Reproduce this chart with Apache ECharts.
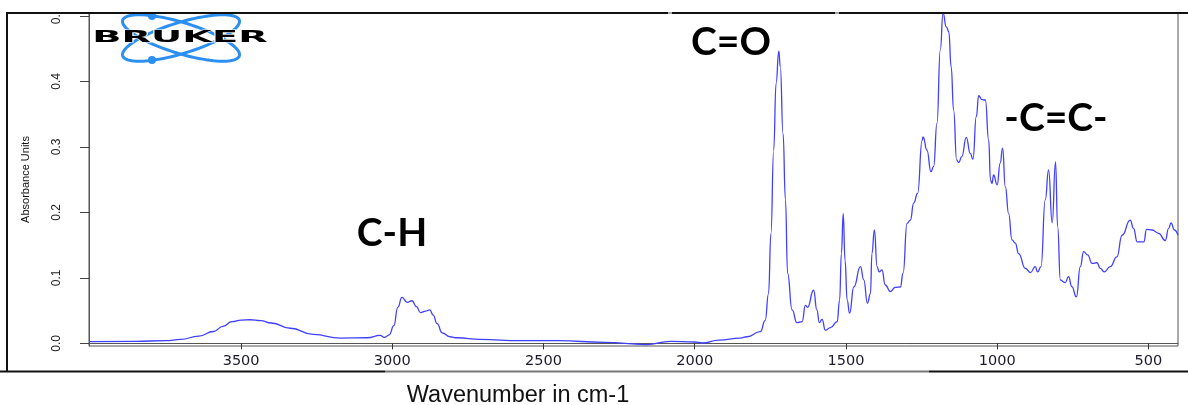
<!DOCTYPE html>
<html>
<head>
<meta charset="utf-8">
<script src="https://cdn.jsdelivr.net/npm/echarts@6.0.0/dist/echarts.min.js"></script>
<style>
  html, body { margin: 0; padding: 0; background: #fff; }
  #myChart { width: 1188px; height: 405px; }
</style>
</head>
<body>
<div id="myChart"></div>
<script>
// spectrum (wavenumber cm-1, absorbance)
var wavenumbers = [4000, 3850, 3750, 3700, 3640, 3591, 3560, 3530, 3500, 3470, 3436, 3400, 3337, 3261, 3172, 3083, 3040, 3026, 3010, 2995, 2982, 2968, 2951, 2935, 2920, 2907, 2890, 2876, 2865, 2852, 2835, 2810, 2786, 2709, 2576, 2450, 2300, 2160, 2080, 2000, 1976, 1920, 1850, 1827, 1783, 1767, 1756, 1748, 1739, 1731, 1722, 1717, 1708, 1700, 1693, 1678, 1662, 1645, 1634, 1627, 1607, 1596, 1588, 1579, 1568, 1551, 1529, 1521, 1515, 1509, 1503, 1496, 1488, 1474, 1452, 1441, 1429, 1419, 1414, 1406, 1397, 1390, 1381, 1370, 1353, 1337, 1320, 1311, 1298, 1287, 1276, 1263, 1248, 1245, 1232, 1219, 1210, 1199, 1188, 1179, 1168, 1160, 1152, 1144, 1134, 1127, 1117, 1102, 1089, 1080, 1069, 1061, 1050, 1039, 1028, 1022, 1017, 1012, 1000, 990, 982, 973, 962, 951, 940, 929, 907, 890, 874, 866, 855, 841, 830, 818, 807, 800, 791, 775, 764, 753, 738, 725, 714, 701, 686, 670, 659, 646, 626, 604, 587, 560, 549, 537, 515, 506, 488, 466, 444, 433, 425, 414, 402];
var absorbance = [0.0025, 0.003, 0.004, 0.006, 0.011, 0.018, 0.026, 0.033, 0.0355, 0.036, 0.0345, 0.031, 0.023, 0.0135, 0.008, 0.0085, 0.012, 0.009, 0.013, 0.027, 0.055, 0.070, 0.0625, 0.065, 0.056, 0.047, 0.049, 0.051, 0.043, 0.030, 0.016, 0.010, 0.0085, 0.006, 0.004, 0.004, 0.0015, -0.002, 0.003, 0.002, 0.0005, 0.005, 0.008, 0.010, 0.0177, 0.035, 0.076, 0.168, 0.295, 0.397, 0.446, 0.422, 0.32, 0.219, 0.107, 0.051, 0.0315, 0.033, 0.058, 0.055, 0.081, 0.051, 0.0315, 0.0366, 0.020, 0.024, 0.033, 0.066, 0.137, 0.198, 0.127, 0.066, 0.046, 0.086, 0.117, 0.097, 0.061, 0.076, 0.137, 0.173, 0.117, 0.109, 0.112, 0.089, 0.079, 0.0855, 0.086, 0.107, 0.183, 0.188, 0.214, 0.229, 0.310, 0.315, 0.295, 0.262, 0.270, 0.336, 0.448, 0.504, 0.483, 0.476, 0.422, 0.356, 0.280, 0.276, 0.285, 0.3145, 0.290, 0.281, 0.346, 0.378, 0.372, 0.3715, 0.310, 0.249, 0.244, 0.257, 0.242, 0.275, 0.298, 0.239, 0.198, 0.158, 0.153, 0.137, 0.1145, 0.108, 0.117, 0.109, 0.117, 0.219, 0.2646, 0.184, 0.277, 0.178, 0.0967, 0.0926, 0.1017, 0.0865, 0.071, 0.117, 0.140, 0.135, 0.122, 0.123, 0.1145, 0.109, 0.117, 0.132, 0.165, 0.188, 0.1755, 0.155, 0.155, 0.174, 0.173, 0.168, 0.157, 0.1755, 0.184, 0.173, 0.165];

var xTicks = [3500, 3000, 2500, 2000, 1500, 1000, 500];
var yTicks = [0, 0.1, 0.2, 0.3, 0.4, 0.5];

var bandLabels = ['C-H', 'C=O', '-C=C-'];
var yTitle = 'Absorbance Units';
var xTitle = 'Wavenumber in cm-1';

// logo ellipse outline
function ellipsePoints(cx, cy, a, b, deg) {
  var r = deg * Math.PI / 180, pts = [];
  for (var i = 0; i < 90; i++) {
    var t = i / 90 * Math.PI * 2;
    var x = a * Math.cos(t), y = b * Math.sin(t);
    pts.push([cx + x * Math.cos(r) - y * Math.sin(r), cy + x * Math.sin(r) + y * Math.cos(r)]);
  }
  return pts;
}

var seriesData = wavenumbers.map(function (w, i) { return [w, absorbance[i]]; });

var myChart = echarts.init(document.getElementById('myChart'));
myChart.setOption({
  animation: false,
  grid: {
    left: 89, right: 10, top: 13, bottom: 59,
    show: true, borderColor: '#555', borderWidth: 1
  },
  xAxis: {
    type: 'value',
    inverse: true,
    min: 402,
    max: 4003,
    splitLine: { show: false },
    axisLine: { show: true, lineStyle: { color: '#555' } },
    axisTick: { show: true, length: 6, lineStyle: { color: '#333' }, customValues: xTicks },
    axisLabel: {
      customValues: xTicks,
      fontFamily: 'DejaVu Sans',
      fontSize: 14.5,
      color: '#1a1a2a',
      margin: 8,
      formatter: function (v) { return String(v); }
    }
  },
  yAxis: {
    type: 'value',
    min: -0.0041,
    max: 0.5043,
    name: yTitle,
    nameLocation: 'middle',
    nameRotate: 90,
    nameGap: 58,
    nameTextStyle: { fontFamily: 'Liberation Sans', fontSize: 11, color: '#111' },
    splitLine: { show: false },
    axisLine: { show: true, lineStyle: { color: '#555' } },
    axisTick: { show: true, length: 9, lineStyle: { color: '#444' }, customValues: yTicks },
    axisLabel: {
      customValues: yTicks,
      rotate: 90,
      align: 'center',
      verticalAlign: 'bottom',
      margin: 26,
      fontFamily: 'Liberation Sans',
      fontSize: 12,
      color: '#222',
      formatter: function (v) { return v.toFixed(1); }
    }
  },
  series: [{
    type: 'line',
    data: seriesData,
    showSymbol: false,
    smooth: 0.5,
    smoothMonotone: 'x',
    lineStyle: { color: '#4040ff', width: 1.3 },
    z: 3
  }],
  graphic: [
    // blank strip above the frame, clips the top tick label
    { type: 'rect', z: 100, shape: { x: 0, y: 0, width: 1188, height: 12 }, style: { fill: '#fff' } },
    { type: 'line', z: 101, shape: { x1: 6, y1: 13, x2: 668, y2: 13 }, style: { stroke: '#111', lineWidth: 2 } },
    { type: 'line', z: 101, shape: { x1: 672, y1: 13, x2: 835, y2: 13 }, style: { stroke: '#111', lineWidth: 2 } },
    { type: 'line', z: 101, shape: { x1: 839, y1: 13, x2: 1188, y2: 13 }, style: { stroke: '#111', lineWidth: 2 } },
    { type: 'line', z: 101, shape: { x1: 7, y1: 12, x2: 7, y2: 372 }, style: { stroke: '#111', lineWidth: 2 } },
    { type: 'line', z: 101, shape: { x1: 0, y1: 371.5, x2: 385, y2: 371.5 }, style: { stroke: '#111', lineWidth: 2 } },
    { type: 'line', z: 101, shape: { x1: 385, y1: 371.5, x2: 929, y2: 371.5 }, style: { stroke: '#777', lineWidth: 2 } },
    { type: 'line', z: 101, shape: { x1: 929, y1: 371.5, x2: 1188, y2: 371.5 }, style: { stroke: '#111', lineWidth: 2 } },
    // BRUKER logo
    { type: 'polygon', z: 20, shape: { points: ellipsePoints(181, 38, 61, 15.5, 17) }, style: { fill: 'none', stroke: '#2b8ff2', lineWidth: 3 } },
    { type: 'polygon', z: 20, shape: { points: ellipsePoints(181, 38, 61, 15.5, -17) }, style: { fill: 'none', stroke: '#2b8ff2', lineWidth: 3 } },
    { type: 'circle', z: 21, shape: { cx: 152, cy: 16, r: 4 }, style: { fill: '#2b8ff2' } },
    { type: 'circle', z: 21, shape: { cx: 152, cy: 60, r: 4 }, style: { fill: '#2b8ff2' } },
    {
      type: 'text', z: 22, x: 180, y: 38, scaleX: 2.4,
      style: { text: 'BRUKER', fontFamily: 'DejaVu Sans', fontWeight: 'bold', fontSize: 16,
               fill: '#000', stroke: '#fff', lineWidth: 1, align: 'center', verticalAlign: 'middle' }
    },
    // band labels
    { type: 'text', z: 30, x: 392, y: 233, style: { text: bandLabels[0], fontFamily: 'Lato', fontWeight: 'bold', fontSize: 39, fill: '#000', align: 'center', verticalAlign: 'middle' } },
    { type: 'text', z: 30, x: 731, y: 42, style: { text: bandLabels[1], fontFamily: 'Lato', fontWeight: 'bold', fontSize: 39, fill: '#000', align: 'center', verticalAlign: 'middle' } },
    { type: 'text', z: 30, x: 1056, y: 118, style: { text: bandLabels[2], fontFamily: 'Lato', fontWeight: 'bold', fontSize: 39, fill: '#000', align: 'center', verticalAlign: 'middle' } },
    // x axis title
    { type: 'text', z: 30, x: 518, y: 396, style: { text: xTitle, fontFamily: 'Liberation Sans', fontSize: 23.5, fill: '#111', align: 'center', verticalAlign: 'middle' } }
  ]
});
</script>
</body>
</html>
